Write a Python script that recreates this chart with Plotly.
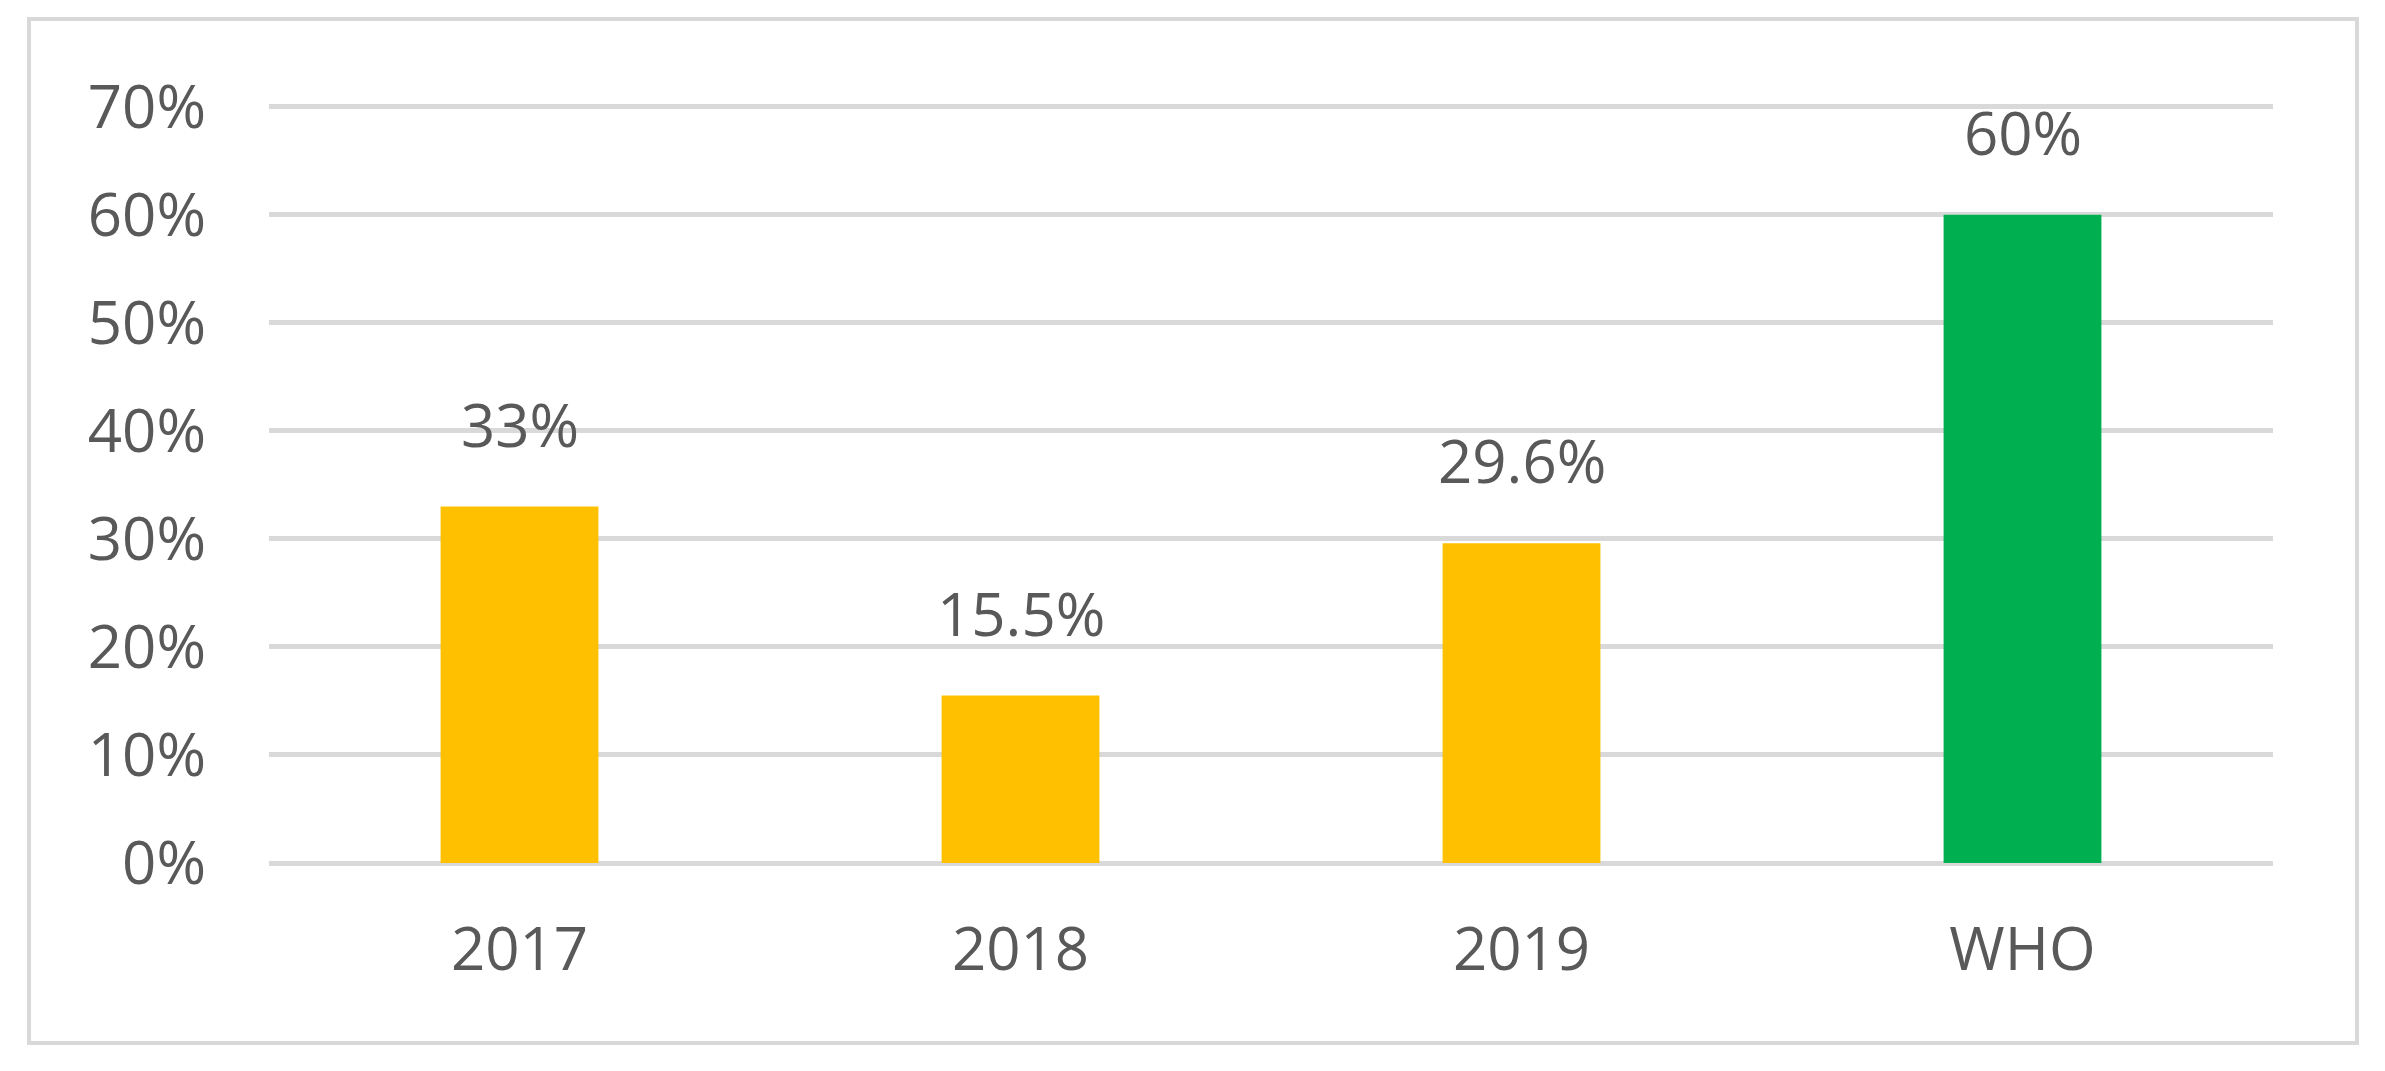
import plotly.graph_objects as go

categories = ["2017", "2018", "2019", "WHO"]
values = [0.33, 0.155, 0.296, 0.60]
bar_colors = ["#FFC000", "#FFC000", "#FFC000", "#00B050"]
tick_vals = [0, 0.1, 0.2, 0.3, 0.4, 0.5, 0.6, 0.7]
tick_text = ["0%", "10%", "20%", "30%", "40%", "50%", "60%", "70%"]

W, H = 2385, 1071
Y_TOP = 0.71
L, R, B = 269, 2273, 863          # plot area in pixels
PX_PER_UNIT = (863 - 107) / 0.7   # 70% gridline sits at y=107
T = round(B - Y_TOP * PX_PER_UNIT)
TEXT = "#595959"
GRID = "#D9D9D9"
FONT = "Open Sans, Liberation Sans, sans-serif"

def fmt(v):
    return f"{v*100:g}%"

fig = go.Figure()
fig.add_trace(go.Bar(
    x=categories, y=values, marker=dict(color=bar_colors, line=dict(width=0)),
    hoverinfo="skip",
))

# data labels (category axis: numeric-looking strings would be read as indices, so use index)
for i, v in enumerate(values):
    fig.add_annotation(x=i, y=v, text=fmt(v), showarrow=False, yanchor="bottom",
                       yshift=40, font=dict(size=60, color=TEXT, family=FONT))

# outer chart border
pw, ph = R - L, B - T
fig.add_shape(type="rect", xref="paper", yref="paper",
              x0=(29 - L) / pw, x1=(2357 - L) / pw,
              y0=(B - 1043) / ph, y1=(B - 19) / ph,
              line=dict(color=GRID, width=4), fillcolor="rgba(0,0,0,0)", layer="below")

fig.update_layout(
    width=W, height=H,
    margin=dict(l=L, r=W - R, t=T, b=H - B, autoexpand=False),
    paper_bgcolor="white", plot_bgcolor="white",
    bargap=0.685, showlegend=False,
    font=dict(family=FONT, color=TEXT, size=60),
)
fig.update_xaxes(type="category", range=[-0.5, len(categories) - 0.5],
                 showgrid=False, showline=False, zeroline=False, ticks="",
                 tickfont=dict(size=60, color=TEXT, family=FONT), ticklabelstandoff=46,
                 fixedrange=True)
fig.update_yaxes(range=[0, Y_TOP], tickvals=tick_vals, ticktext=tick_text,
                 showgrid=True, gridcolor=GRID, gridwidth=5,
                 zeroline=True, zerolinecolor=GRID, zerolinewidth=5,
                 showline=False, ticks="", ticklabelstandoff=62,
                 tickfont=dict(size=60, color=TEXT, family=FONT), fixedrange=True)

fig.write_html("out.html", config={"displayModeBar": False},
               post_script="document.body.style.margin='0';document.body.style.overflow='hidden';")
